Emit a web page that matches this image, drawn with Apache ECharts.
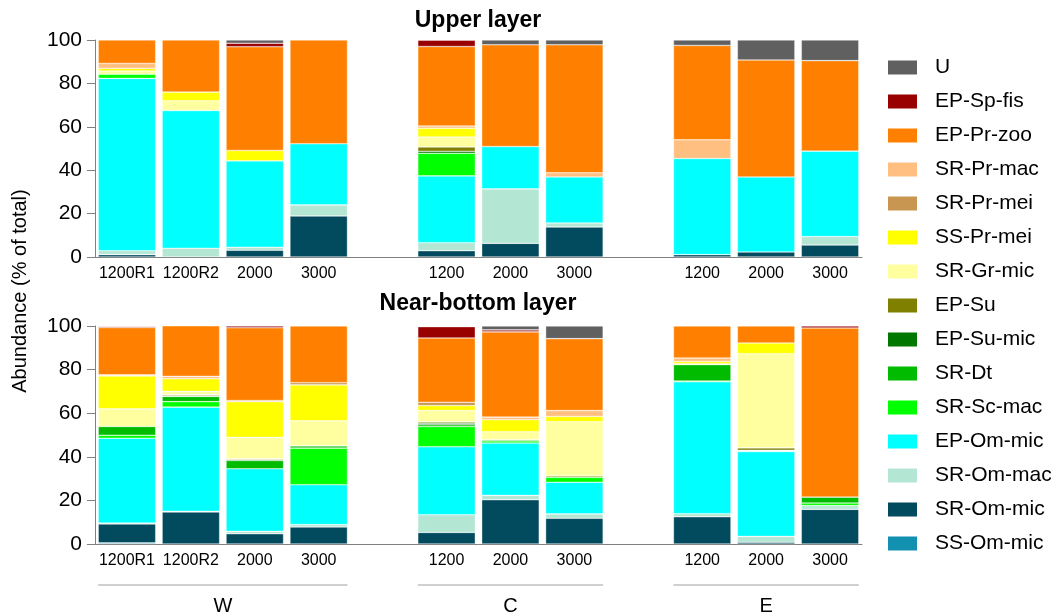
<!DOCTYPE html>
<html>
<head>
<meta charset="utf-8">
<script src="https://cdn.jsdelivr.net/npm/echarts@6/dist/echarts.min.js"></script>
<style>
  html, body { margin: 0; padding: 0; background: #fff; }
  #chart { width: 1062px; height: 616px; }
</style>
</head>
<body>
<div id="chart"></div>
<script>
// taxa, from bottom of the stack to the top
const taxa = ['SS-Om-mic', 'SR-Om-mic', 'SR-Om-mac', 'EP-Om-mic', 'SR-Sc-mac', 'SR-Dt', 'EP-Su-mic',
  'EP-Su', 'SR-Gr-mic', 'SS-Pr-mei', 'SR-Pr-mei', 'SR-Pr-mac', 'EP-Pr-zoo', 'EP-Sp-fis', 'U']
const taxaColors = ['#1190b0', '#024a5e', '#b4e6d4', '#00ffff', '#00ff00', '#00bb00', '#007800',
  '#808000', '#ffffa0', '#ffff00', '#c89650', '#ffbf80', '#ff8000', '#990000', '#606060']

const groupNames = ['W', 'C', 'E']
const groupSizes = [4, 3, 3]
const sampleLabels = ['1200R1', '1200R2', '2000', '3000', '1200', '2000', '3000', '1200', '2000', '3000']

// % of total, one row per taxon (same order as taxa), columns follow sampleLabels
const upperLayer = [
  [0, 0, 0, 0, 0, 0, 0, 0, 0, 0],
  [1.1, 0, 3.1, 18.9, 2.9, 6.3, 13.8, 1.1, 2.3, 5.5],
  [1.8, 4.0, 1.4, 5.1, 3.7, 25.1, 1.9, 0, 0, 3.9],
  [79.4, 63.5, 39.8, 28.2, 30.8, 19.5, 21.2, 44.3, 34.6, 39.4],
  [1.9, 0, 0, 0, 10.4, 0, 0, 0, 0, 0],
  [0, 0, 0, 0, 0, 0, 0, 0, 0, 0],
  [0, 0, 0, 0, 0.9, 0, 0, 0, 0, 0],
  [0, 0, 0, 0, 2.0, 0, 0, 0, 0, 0],
  [1.5, 4.5, 0, 0, 4.6, 0, 0, 0, 0, 0],
  [1.2, 4.0, 4.8, 0, 4.0, 0, 0, 0, 0, 0],
  [0, 0, 0, 0, 0, 0, 0, 0, 0, 0],
  [2.3, 0, 0, 0, 1.1, 0, 1.9, 8.6, 0, 0],
  [10.8, 24.0, 47.8, 47.8, 36.6, 46.9, 59.0, 43.5, 53.9, 41.7],
  [0, 0, 1.6, 0, 2.9, 0, 0, 0, 0, 0],
  [0, 0, 1.5, 0, 0, 2.2, 2.2, 2.5, 9.2, 9.5]
]
const nearBottomLayer = [
  [0.5, 0, 0, 0, 0, 0, 0, 0, 0, 0],
  [8.7, 14.7, 4.7, 7.8, 5.3, 20.3, 11.8, 12.5, 0.8, 15.9],
  [0.4, 0.3, 1.1, 1.1, 8.1, 2.0, 2.0, 1.4, 2.7, 1.7],
  [38.9, 47.8, 28.7, 18.3, 31.2, 24.0, 14.5, 60.5, 38.9, 0],
  [1.4, 2.5, 0, 16.8, 9.3, 1.0, 2.3, 0.4, 0.3, 1.2],
  [4.0, 2.4, 3.8, 1.0, 0.8, 0.5, 0, 7.5, 0.3, 2.7],
  [0, 0.3, 0.4, 0, 0.7, 0, 0, 0, 0, 0],
  [0, 0.5, 0.4, 0, 0.6, 0, 0.6, 0, 1.1, 0],
  [8.1, 1.5, 9.8, 11.5, 5.2, 3.7, 24.9, 0.4, 43.2, 0],
  [15.1, 5.8, 16.4, 16.5, 2.3, 5.5, 2.4, 1.0, 4.9, 0],
  [0, 0, 0.5, 1.0, 1.5, 0, 0, 0, 0, 0],
  [0.5, 1.1, 0, 0, 0, 1.2, 2.7, 1.6, 0, 0],
  [21.7, 23.2, 33.4, 26.0, 29.5, 39.1, 33.0, 14.7, 7.8, 77.6],
  [0.5, 0, 0.8, 0, 5.2, 0.9, 0, 0, 0, 0.9],
  [0.2, 0, 0, 0, 0.3, 1.8, 5.8, 0, 0, 0]
]

const font = 'Liberation Sans, Arial, sans-serif'

// category slots: samples of each group, with one empty slot between groups
const slots = []
const slotLabel = {}
let si = 0
groupSizes.forEach((n, g) => {
  if (g > 0) { slots.push('gap' + g); slotLabel['gap' + g] = '' }
  for (let k = 0; k < n; k++) {
    const id = groupNames[g] + '_' + sampleLabels[si]
    slots.push(id)
    slotLabel[id] = sampleLabels[si]
    si++
  }
})

function toSlots(values) {
  const out = []
  let i = 0
  groupSizes.forEach((n, g) => {
    if (g > 0) out.push('-')
    for (let k = 0; k < n; k++) {
      out.push(values[i] === 0 ? '-' : values[i])
      i++
    }
  })
  return out
}

const grids = [
  { left: 95, width: 767, top: 40, height: 217 },
  { left: 95, width: 767, top: 326, height: 218 }
]

const xAxes = grids.map((g, i) => ({
  type: 'category',
  gridIndex: i,
  data: slots,
  axisLine: { lineStyle: { color: '#808080', width: 1 } },
  axisTick: { show: false },
  axisLabel: {
    interval: 0,
    color: '#000',
    fontFamily: font,
    fontSize: 16,
    margin: 9,
    formatter: v => slotLabel[v]
  }
}))

const yAxes = grids.map((g, i) => ({
  type: 'value',
  gridIndex: i,
  min: 0,
  max: 100,
  interval: 20,
  axisLine: { show: true, lineStyle: { color: '#808080', width: 1 } },
  axisTick: { show: true, length: 8, lineStyle: { color: '#808080' } },
  splitLine: { show: false },
  axisLabel: { color: '#000', fontFamily: font, fontSize: 21, margin: 13 }
}))

const series = []
;[upperLayer, nearBottomLayer].forEach((layer, li) => {
  taxa.forEach((t, ti) => {
    series.push({
      name: t,
      type: 'bar',
      xAxisIndex: li,
      yAxisIndex: li,
      stack: 'layer' + li,
      barWidth: '90%',
      itemStyle: { color: taxaColors[ti], borderColor: 'rgba(255,255,255,0.6)', borderWidth: 0.6 },
      data: toSlots(layer[ti])
    })
  })
})

let myChart = echarts.init(document.getElementById('chart'))
myChart.setOption({
  animation: false,
  color: taxaColors,
  title: [
    {
      text: 'Upper layer', left: 478, top: 9, padding: 0, textAlign: 'center',
      textStyle: { fontFamily: font, fontSize: 23, fontWeight: 'bold', color: '#000' }
    },
    {
      text: 'Near-bottom layer', left: 478, top: 292, padding: 0, textAlign: 'center',
      textStyle: { fontFamily: font, fontSize: 23, fontWeight: 'bold', color: '#000' }
    }
  ],
  legend: {
    orient: 'vertical',
    left: 888,
    top: 57,
    padding: 0,
    itemWidth: 29,
    itemHeight: 14,
    itemGap: 13,
    icon: 'rect',
    selectedMode: false,
    data: taxa.slice().reverse(),
    itemStyle: { borderWidth: 0 },
    textStyle: { fontFamily: font, fontSize: 21, color: '#000', padding: [0, 0, 0, 13] }
  },
  grid: grids,
  xAxis: xAxes,
  yAxis: yAxes,
  series: series
})

// group brackets under the lower axis, placed from the axis scale
const slotWidth = grids[1].width / slots.length
const halfBar = slotWidth * 0.45
const graphics = [{
  type: 'text',
  x: 20,
  y: 291,
  rotation: Math.PI / 2,
  style: {
    text: 'Abundance (% of total)',
    fontFamily: font,
    fontSize: 20,
    fill: '#000',
    textAlign: 'center',
    textVerticalAlign: 'middle'
  }
}]
si = 0
groupSizes.forEach((n, g) => {
  const first = groupNames[g] + '_' + sampleLabels[si]
  const last = groupNames[g] + '_' + sampleLabels[si + n - 1]
  si += n
  const x1 = myChart.convertToPixel({ xAxisIndex: 1 }, first) - halfBar
  const x2 = myChart.convertToPixel({ xAxisIndex: 1 }, last) + halfBar
  graphics.push({
    type: 'line',
    shape: { x1: x1, y1: 585, x2: x2, y2: 585 },
    style: { stroke: '#a0a0a0', lineWidth: 1 }
  })
  graphics.push({
    type: 'text',
    x: (x1 + x2) / 2,
    y: 606,
    style: {
      text: groupNames[g],
      fontFamily: font,
      fontSize: 20,
      fill: '#000',
      textAlign: 'center',
      textVerticalAlign: 'middle'
    }
  })
})
myChart.setOption({ graphic: graphics })
</script>
</body>
</html>
